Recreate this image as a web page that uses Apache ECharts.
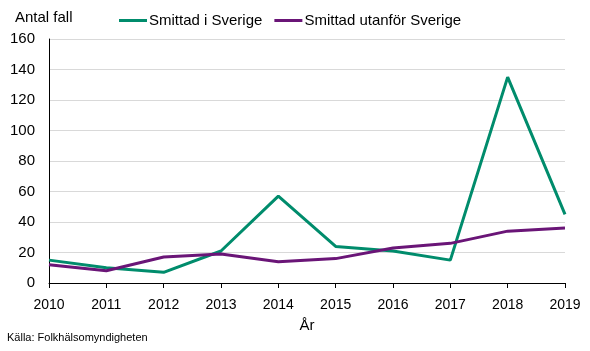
<!DOCTYPE html>
<html>
<head>
<meta charset="utf-8">
<script src="https://cdn.jsdelivr.net/npm/echarts@6/dist/echarts.min.js"></script>
<style>
  html, body { margin: 0; padding: 0; background: #fff; }
  #chart { width: 590px; height: 351px; }
</style>
</head>
<body>
<div id="chart"></div>
<script>
const years = ['2010', '2011', '2012', '2013', '2014', '2015', '2016', '2017', '2018', '2019'];
const smittadSverige = [15, 10, 7, 21, 57, 24, 21, 15, 135, 45];
const smittadUtanfor = [12, 8, 17, 19, 14, 16, 23, 26, 34, 36];

const font = 'Liberation Sans';

let chart = echarts.init(document.getElementById('chart'));

let option = {
  backgroundColor: '#fff',
  animation: false,
  textStyle: { fontFamily: font },
  title: [{
    text: 'Antal fall',
    left: 10,
    top: 5,
    textStyle: { fontFamily: font, fontSize: 15, fontWeight: 'normal', color: '#000' }
  }, {
    text: 'Källa: Folkhälsomyndigheten',
    left: 2,
    top: 327,
    textStyle: { fontFamily: font, fontSize: 11, fontWeight: 'normal', color: '#000' }
  }],
  legend: {
    left: 114,
    top: 8,
    itemWidth: 28,
    itemHeight: 3,
    itemGap: 12,
    icon: 'rect',
    textStyle: { fontFamily: font, fontSize: 15, color: '#000', padding: [0, 0, 0, -3] },
    data: ['Smittad i Sverige', 'Smittad utanför Sverige']
  },
  grid: {
    left: 49,
    right: 25,
    top: 39,
    bottom: 68
  },
  xAxis: {
    type: 'category',
    data: years,
    boundaryGap: false,
    name: 'År',
    nameLocation: 'middle',
    nameGap: 35,
    nameTextStyle: { fontFamily: font, fontSize: 15, color: '#000' },
    axisLine: { lineStyle: { color: '#000', width: 1 } },
    axisTick: { show: true, length: 5, lineStyle: { color: '#000' } },
    axisLabel: { margin: 15, fontFamily: font, fontSize: 14, color: '#000' },
    splitLine: { show: false }
  },
  yAxis: {
    type: 'value',
    min: 0,
    max: 160,
    interval: 20,
    axisLine: { show: true, lineStyle: { color: '#000', width: 1 } },
    axisTick: { show: false },
    axisLabel: { margin: 14, fontFamily: font, fontSize: 15, color: '#000' },
    splitLine: { lineStyle: { color: '#d9d9d9', width: 1 } }
  },
  series: [{
    name: 'Smittad i Sverige',
    type: 'line',
    data: smittadSverige,
    symbol: 'none',
    color: '#008c6c',
    lineStyle: { width: 3, color: '#008c6c' }
  }, {
    name: 'Smittad utanför Sverige',
    type: 'line',
    data: smittadUtanfor,
    symbol: 'none',
    color: '#6a1577',
    lineStyle: { width: 3, color: '#6a1577' }
  }]
};

chart.setOption(option);
</script>
</body>
</html>
